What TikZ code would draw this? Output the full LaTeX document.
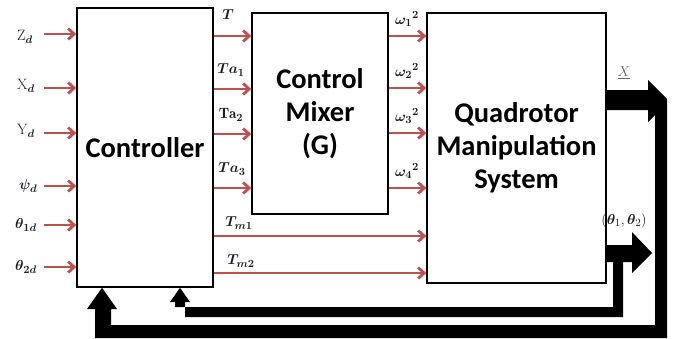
\documentclass[tikz,border=0pt]{standalone}
\usepackage{amsmath,bm}
\usepackage{fontspec}
\newfontfamily\calfont{Carlito}
\usetikzlibrary{arrows.meta,calc}
\definecolor{sigred}{RGB}{192,80,77}
\definecolor{lbl}{RGB}{28,28,38}
\begin{document}
\begin{tikzpicture}[x=1pt,y=-1pt,
  block/.style={draw=black, line width=1.6pt, fill=white, inner sep=0pt, align=center,
    font=\calfont\bfseries\fontsize{28.5}{33}\selectfont},
  sig/.style={draw=sigred, line width=2.8pt, -{Straight Barb[length=6pt,width=11pt]}},
  lab/.style={text=lbl, font=\fontsize{15}{17}\selectfont, inner sep=0pt},
  fb/.style={fill=black}
]
\useasboundingbox (0,0) rectangle (686,338);

% blocks
\node[block, minimum width=136pt, minimum height=279pt] (ctrl) at (145,147.5) {Controller};
\node[block, minimum width=136pt, minimum height=201pt] (mix) at (320,113.5) {Control\\Mixer\\(G)};
\node[block, minimum width=179pt, minimum height=270pt] (quad) at (516.5,148) {Quadrotor\\Manipulation\\System};

% inputs
\foreach \n/\y in {iz/34,ix/88,iy/133,ipsi/186,ith1/225,ith2/267}{
  \coordinate (\n) at (44,\y);
  \draw[sig] (\n) -- (\n -| ctrl.west);
}
\node[lab, anchor=west] (lz) at (17,37) {$\mathrm{Z}_{\bm d}$};
\node[lab, anchor=west] (lx) at (17,86) {$\mathrm{X}_{\bm d}$};
\node[lab, anchor=west] (ly) at (17,131) {$\mathrm{Y}_{\bm d}$};
\node[lab, anchor=west] (lpsi) at (19,186) {$\bm{\psi}_{\bm d}$};
\node[lab, anchor=west] (lth1) at (15,225) {$\bm{\theta}_{\bm{1d}}$};
\node[lab, anchor=west] (lth2) at (15,267) {$\bm{\theta}_{\bm{2d}}$};

% controller -> mixer
\foreach \n/\y in {cT/36,cA/89,cB/134,cC/188}{
  \coordinate (\n) at (ctrl.east |- 0,\y);
  \draw[sig] (\n) -- (\n -| mix.west);
}
% controller -> quadrotor
\foreach \n/\y in {cM/236,cN/273}{
  \coordinate (\n) at (ctrl.east |- 0,\y);
  \draw[sig] (\n) -- (\n -| quad.west);
}
% mixer -> quadrotor
\foreach \n/\y in {w1/36,w2/88,w3/133,w4/188}{
  \coordinate (\n) at (mix.east |- 0,\y);
  \draw[sig] (\n) -- (\n -| quad.west);
}

\node[lab] (lT) at (228,15) {$\bm{T}$};
\node[lab] (lTa1) at (231,70) {$\bm{Ta_1}$};
\node[lab] (lTa2) at (231,115) {$\mathbf{Ta}_{\bm 2}$};
\node[lab] (lTa3) at (232,169) {$\bm{Ta_3}$};
\node[lab] (lTm1) at (239,223) {$\bm{T_{m1}}$};
\node[lab] (lTm2) at (241,261) {$\bm{T_{m2}}$};
\node[lab] (lw1) at (407,19) {${\bm{\omega}_{\bm 1}}^{\bm 2}$};
\node[lab] (lw2) at (407,71) {${\bm{\omega}_{\bm 2}}^{\bm 2}$};
\node[lab] (lw3) at (407,116) {${\bm{\omega}_{\bm 3}}^{\bm 2}$};
\node[lab] (lw4) at (407,171) {${\bm{\omega}_{\bm 4}}^{\bm 2}$};
\node[lab, text=black!60] (lX) at (624,73) {$\underline{X}$};
\node[lab] (lth) at (624,221) {$(\bm{\theta}_1,\bm{\theta}_2)$};

% feedback path X
\fill[fb] (quad.east |- 0,90) -- (648,90) -- (648,80) -- (667,99) -- (667,338)
  -- (95,338) -- (95,309) -- (87,309) -- (ctrl.south -| 102,0) -- (117,309) -- (111,309)
  -- (111,325) -- (655,325) -- (655,115) -- (648,122) -- (648,110) -- (quad.east |- 0,110) -- cycle;
% feedback path theta
\fill[fb] (quad.east |- 0,245) -- (632,245) -- (632,232) -- (652,253) -- (632,273) -- (632,262)
  -- (623,262) -- (623,317) -- (185,317) -- (185,302) -- (190,302) -- (ctrl.south -| 180,0)
  -- (170,302) -- (175,302) -- (175,307) -- (613,307) -- (613,262) -- (quad.east |- 0,262) -- cycle;
\end{tikzpicture}
\end{document}
